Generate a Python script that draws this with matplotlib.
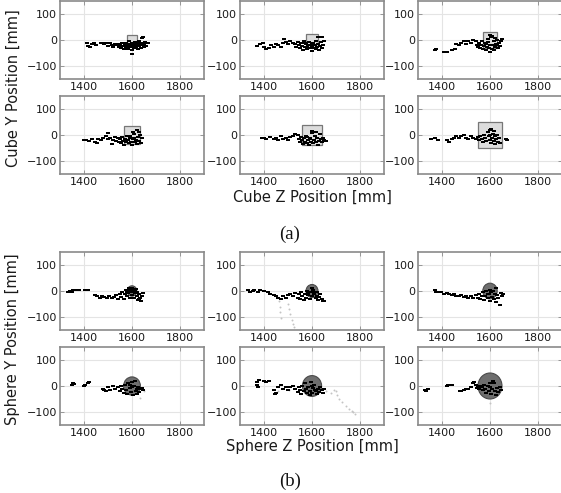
import matplotlib
matplotlib.use("Agg")
import matplotlib.pyplot as plt
from matplotlib.patches import Rectangle, Circle

# ---------------- data (mm) ----------------
CUBE_SIZES = [40, 50, 60, 70, 80, 100]          # cube edge length per panel
SPHERE_RADII = [20, 25, 30, 35, 40, 50]         # sphere radius per panel
OBJ_Z = 1600
OBJ_Y = 0

X_TICKS = [1400, 1600, 1800]
Y_TICKS = [-100, 0, 100]

CUBE_PTS_1 = [(1412,-12),(1418,-22),(1425,-28),(1432,-15),(1440,-10),(1448,-20),(1470,-12),(1478,-10),
    (1485,-15),(1495,-12),(1500,-22),(1508,-10),(1515,-18),(1520,-25),(1528,-15),(1535,-20),
    (1540,-15),(1545,-25),(1550,-20),(1555,-30),(1558,-12),(1562,-22),(1566,-35),(1570,-18),(1573,-28),
    (1577,-10),(1580,-24),(1583,-34),(1586,-16),(1589,-5),(1592,-28),(1595,-20),(1598,-38),(1601,-12),
    (1604,-25),(1607,-32),(1610,-18),(1613,-6),(1616,-28),(1619,-22),(1622,-14),(1625,-36),(1628,-2),
    (1631,-24),(1634,-16),(1637,-30),(1640,8),(1643,-20),(1646,-10),(1649,-26),(1652,-16),(1656,-6),
    (1660,-22),(1665,-12),(1645,12),(1600,-52),(1575,-30),(1590,-15),(1615,-15),(1630,-10)]
CUBE_PTS_2 = [(1372,-22),(1385,-15),(1395,-10),(1402,-25),(1410,-35),(1420,-30),(1430,-20),(1440,-25),
    (1450,-15),(1460,-20),(1470,-28),(1480,-10),(1482,5),(1490,-8),(1500,-15),(1510,-5),(1520,-12),
    (1530,-15),(1535,-25),(1540,-8),(1545,-20),(1550,-30),(1554,-12),(1558,-22),(1562,-38),(1566,-5),
    (1570,-25),(1574,-15),(1578,-35),(1582,-20),(1586,-8),(1590,-30),(1594,-18),(1598,-42),(1602,-25),
    (1606,-10),(1610,-32),(1614,-20),(1618,-2),(1622,-28),(1626,-15),(1630,-38),(1634,-22),(1638,-8),
    (1642,-30),(1646,-18),(1650,-5),(1640,10),(1625,12),(1580,-28),(1600,-15),(1615,-35),(1570,-10)]
CUBE_PTS_3 = [(1370,-40),(1376,-35),(1410,-48),(1420,-45),(1440,-40),(1455,-35),(1460,-15),(1470,-20),
    (1480,-10),(1490,-5),(1500,-15),(1510,-2),(1520,-10),(1530,0),(1540,-5),(1545,-18),(1550,-25),
    (1555,-10),(1560,-30),(1564,-18),(1568,-5),(1572,-35),(1576,-22),(1580,-12),(1584,-40),(1588,-25),
    (1592,-8),(1596,-30),(1600,-18),(1604,10),(1608,-35),(1612,-20),(1616,-5),(1620,-28),(1624,-15),
    (1628,0),(1632,-30),(1636,-12),(1640,-22),(1645,-5),(1650,5),(1598,18),(1610,15),(1590,5),
    (1620,8),(1600,-45),(1585,-15),(1615,-40),(1630,-18)]
CUBE_PTS_4 = [(1400,-20),(1410,-18),(1420,-22),(1435,-15),(1445,-25),(1455,-30),(1460,-15),(1470,-20),
    (1480,-10),(1490,-5),(1500,-15),(1502,8),(1510,-10),(1515,-35),(1520,-18),(1528,-8),(1535,-22),
    (1540,-12),(1545,-28),(1550,-15),(1555,-32),(1560,-8),(1564,-22),(1568,-38),(1572,-15),(1576,-28),
    (1580,-5),(1584,-20),(1588,-32),(1592,-12),(1596,-25),(1600,-40),(1604,-15),(1608,5),(1612,-28),
    (1616,-18),(1620,-35),(1624,-8),(1628,-22),(1632,0),(1636,-30),(1640,-12),(1620,18),(1605,12),
    (1590,-5),(1610,-10),(1575,-20),(1630,10)]
CUBE_PTS_5 = [(1390,-12),(1400,-10),(1410,-15),(1425,-8),(1440,-15),(1450,-10),(1460,-20),(1470,-5),
    (1480,-15),(1490,-10),(1500,-18),(1510,-8),(1520,-2),(1530,5),(1540,0),(1545,-15),(1550,-28),
    (1555,-8),(1560,-20),(1564,-35),(1568,-12),(1572,-25),(1576,-5),(1580,-30),(1584,-18),(1588,-40),
    (1592,-10),(1596,-25),(1600,8),(1604,-32),(1608,-18),(1612,-2),(1616,-28),(1620,-12),(1624,-38),
    (1628,-22),(1632,5),(1636,-15),(1640,-28),(1645,-10),(1650,-20),(1660,-22),(1600,15),(1615,12),
    (1590,-15),(1610,-20),(1580,-8)]
CUBE_PTS_6 = [(1355,-15),(1370,-12),(1385,-20),(1420,-20),(1430,-25),(1440,-15),(1450,-10),(1460,-5),
    (1470,-10),(1480,-5),(1490,0),(1500,-10),(1510,-15),(1520,-5),(1530,-12),(1540,-15),(1548,-8),
    (1555,-20),(1560,-5),(1565,-15),(1570,-28),(1575,0),(1580,-12),(1585,-22),(1590,10),(1594,-5),
    (1598,-18),(1602,20),(1606,-30),(1610,-10),(1614,5),(1618,-22),(1622,-35),(1626,-15),(1630,0),
    (1634,-25),(1638,-10),(1640,-30),(1605,25),(1615,15),(1665,-15),(1670,-20),(1600,0),(1620,-5)]

SPHERE_PTS_1 = [(1335,-5),(1340,0),(1350,-3),(1355,2),(1370,5),(1380,3),(1405,5),(1415,2),(1445,-15),
    (1455,-18),(1465,-25),(1475,-20),(1485,-22),(1495,-25),(1505,-20),(1515,-28),(1525,-22),(1535,-15),
    (1540,-30),(1548,-10),(1555,-22),(1560,-5),(1565,-30),(1570,-12),(1574,5),(1578,-20),(1582,-8),
    (1586,10),(1590,-25),(1594,-2),(1598,12),(1602,-15),(1606,5),(1610,-28),(1614,-8),(1618,8),
    (1622,-20),(1626,-35),(1630,-12),(1634,-25),(1638,-40),(1642,-18),(1646,-8),(1600,0),(1590,5),
    (1612,0),(1580,-2),(1620,-5),(1630,-30)]
SPHERE_PTS_2 = [(1335,5),(1340,-2),(1355,0),(1360,5),(1375,-2),(1385,5),(1400,0),(1415,-5),(1425,-10),
    (1440,-15),(1450,-20),(1460,-25),(1470,-30),(1480,-20),(1490,-25),(1500,-15),(1510,-10),(1520,-20),
    (1530,-8),(1540,-25),(1545,-12),(1550,-30),(1555,-5),(1560,-20),(1565,-35),(1570,-10),(1575,-25),
    (1580,0),(1585,-15),(1590,-30),(1595,-5),(1600,-20),(1605,5),(1610,-12),(1615,-28),(1620,-18),
    (1625,-35),(1630,-22),(1635,-10),(1640,-30),(1645,-40),(1650,-38),(1598,10),(1610,-2),(1585,-8),
    (1620,-5)]
SPHERE_FAINT_2 = [(1462,-40),(1465,-60),(1467,-80),(1469,-105),(1500,-50),(1505,-70),(1510,-90),
    (1515,-110),(1520,-128),(1524,-140)]
SPHERE_PTS_3 = [(1370,5),(1375,-5),(1385,-3),(1395,-5),(1410,-10),(1420,-8),(1430,-12),(1440,-15),
    (1450,-10),(1460,-18),(1470,-20),(1480,-15),(1490,-22),(1500,-18),(1510,-25),(1520,-20),(1530,-28),
    (1540,-15),(1548,-25),(1555,-10),(1560,-30),(1565,-18),(1570,-5),(1575,-35),(1580,-20),(1585,0),
    (1590,-25),(1595,-12),(1600,-38),(1605,-5),(1610,-22),(1615,-30),(1620,-10),(1625,-42),(1630,-15),
    (1635,-28),(1640,-52),(1645,-8),(1650,-20),(1655,-12),(1600,5),(1612,0),(1590,-10),(1625,10)]
SPHERE_PTS_4 = [(1350,5),(1355,10),(1360,8),(1400,0),(1405,5),(1415,12),(1420,15),(1480,-10),(1485,-15),
    (1490,-20),(1500,-5),(1510,-15),(1520,0),(1530,-10),(1540,-5),(1548,-18),(1555,0),(1560,-12),
    (1565,-25),(1570,5),(1575,-15),(1580,-30),(1585,10),(1590,-8),(1595,-22),(1600,15),(1605,-35),
    (1610,0),(1615,-18),(1620,-30),(1625,-5),(1630,-22),(1635,-12),(1640,-8),(1645,-15),(1612,20),
    (1600,-5),(1590,5),(1620,-10)]
SPHERE_FAINT_4 = [(1632,-45),(1650,-20)]
SPHERE_PTS_5 = [(1370,15),(1372,5),(1375,-5),(1380,25),(1400,20),(1410,15),(1420,20),(1440,-15),
    (1445,-30),(1450,-25),(1460,-5),(1470,5),(1480,-10),(1490,-5),(1500,-15),(1510,-5),(1520,0),
    (1530,-10),(1540,-22),(1545,-5),(1550,-15),(1555,-30),(1560,0),(1565,-20),(1570,10),(1575,-12),
    (1580,-28),(1585,-5),(1590,-18),(1595,15),(1600,-25),(1605,-8),(1610,5),(1615,-20),(1620,-32),
    (1625,-10),(1630,-22),(1635,-2),(1640,-15),(1645,-25),(1650,-12),(1600,0),(1612,-15),(1590,-35)]
SPHERE_FAINT_5 = [(1660,-20),(1680,-25),(1700,-20),(1705,-35),(1712,-50),(1725,-62),(1740,-75),
    (1755,-88),(1765,-95),(1772,-100),(1780,-108),(1690,-15),(1505,-15),(1460,-20)]
SPHERE_PTS_6 = [(1330,-15),(1335,-18),(1340,-12),(1420,0),(1425,5),(1430,3),(1440,5),(1475,-20),
    (1480,-18),(1490,-15),(1500,-10),(1510,-12),(1520,-5),(1530,10),(1535,15),(1540,5),(1545,-8),
    (1550,-2),(1555,-12),(1560,0),(1565,-5),(1570,-15),(1575,5),(1580,-10),(1585,-25),(1590,0),
    (1595,-18),(1600,-5),(1605,-30),(1610,-12),(1615,10),(1620,-20),(1625,-35),(1630,-8),(1635,-22),
    (1640,-5),(1645,-15),(1612,20),(1600,10)]
SPHERE_FAINT_6 = [(1600,-65)]

CUBE_PANELS = [CUBE_PTS_1, CUBE_PTS_2, CUBE_PTS_3, CUBE_PTS_4, CUBE_PTS_5, CUBE_PTS_6]
SPHERE_PANELS = [SPHERE_PTS_1, SPHERE_PTS_2, SPHERE_PTS_3, SPHERE_PTS_4, SPHERE_PTS_5, SPHERE_PTS_6]
SPHERE_FAINT = [[], SPHERE_FAINT_2, [], SPHERE_FAINT_4, SPHERE_FAINT_5, SPHERE_FAINT_6]

# ---------------- layout ----------------
W, H = 561, 493
fig = plt.figure(figsize=(W / 100, H / 100), dpi=100)

COL_X = [60, 240, 418]      # left edge in px
AX_W = 144
ROW_TOP = [1, 96, 252, 347]  # top edge in px
AX_H = 78

SPINE = "#8a8a8a"
DASH = [(-1.0, -0.45), (1.0, -0.45), (1.0, 0.45), (-1.0, 0.45), (-1.0, -0.45)]


def make_ax(row, col):
    left = COL_X[col] / W
    bottom = 1 - (ROW_TOP[row] + AX_H) / H
    ax = fig.add_axes([left, bottom, AX_W / W, AX_H / H])
    ax.set_xlim(1300, 1900)
    ax.set_ylim(-150, 150)
    ax.set_xticks(X_TICKS)
    ax.set_yticks(Y_TICKS)
    ax.set_yticklabels(["\u2212100", "0", "100"])
    ax.grid(True, color="#e4e4e4", linewidth=0.8)
    ax.set_axisbelow(True)
    for s in ax.spines.values():
        s.set_color(SPINE)
        s.set_linewidth(1.2)
    ax.tick_params(direction="in", length=3, width=0.6, color=SPINE, labelsize=8,
                   labelcolor="#1a1a1a", pad=2, top=True, right=True)
    return ax


def draw_points(ax, pts, color="black", faint=False):
    if not pts:
        return
    if faint:
        ax.scatter([p[0] for p in pts], [p[1] for p in pts], s=2, c=color,
                   marker="o", linewidths=0, zorder=3)
        return
    trail = [p for p in pts if p[0] < 1540]
    core = [p for p in pts if p[0] >= 1540]
    if trail:
        ax.scatter([p[0] for p in trail], [p[1] for p in trail], s=7, c=color,
                   marker=DASH, linewidths=0, zorder=3)
    if core:
        ax.scatter([p[0] for p in core], [p[1] for p in core], s=12, c=color,
                   marker=DASH, linewidths=0, zorder=3)


for i in range(6):
    row, col = divmod(i, 3)
    ax = make_ax(row, col)
    s = CUBE_SIZES[i]
    ax.add_patch(Rectangle((OBJ_Z - s / 2, OBJ_Y - s / 2), s, s, facecolor="#dcdcdc",
                           edgecolor="#777777", linewidth=0.9, zorder=2))
    draw_points(ax, CUBE_PANELS[i])

for i in range(6):
    row, col = divmod(i, 3)
    ax = make_ax(row + 2, col)
    r = SPHERE_RADII[i]
    ax.add_patch(Circle((OBJ_Z, OBJ_Y), r, facecolor="#6e6e6e", edgecolor="#4a4a4a",
                        linewidth=0.8, zorder=2))
    draw_points(ax, SPHERE_FAINT[i], color="#c4c4c4", faint=True)
    draw_points(ax, SPHERE_PANELS[i])

# ---------------- labels ----------------
LBL = 10.5
fig.text(13 / W, 1 - 88 / H, "Cube Y Position [mm]", rotation=90, ha="center", va="center",
         fontsize=LBL, color="#1a1a1a")
fig.text(13 / W, 1 - 339 / H, "Sphere Y Position [mm]", rotation=90, ha="center", va="center",
         fontsize=LBL, color="#1a1a1a")
fig.text(312 / W, 1 - 197 / H, "Cube Z Position [mm]", ha="center", va="center",
         fontsize=LBL, color="#1a1a1a")
fig.text(312 / W, 1 - 447 / H, "Sphere Z Position [mm]", ha="center", va="center",
         fontsize=LBL, color="#1a1a1a")
fig.text(290 / W, 1 - 234 / H, "(a)", ha="center", va="center", fontsize=13.5,
         family="Liberation Serif", color="#111111")
fig.text(290 / W, 1 - 481 / H, "(b)", ha="center", va="center", fontsize=13.5,
         family="Liberation Serif", color="#111111")

fig.savefig("out.png", dpi=100)
